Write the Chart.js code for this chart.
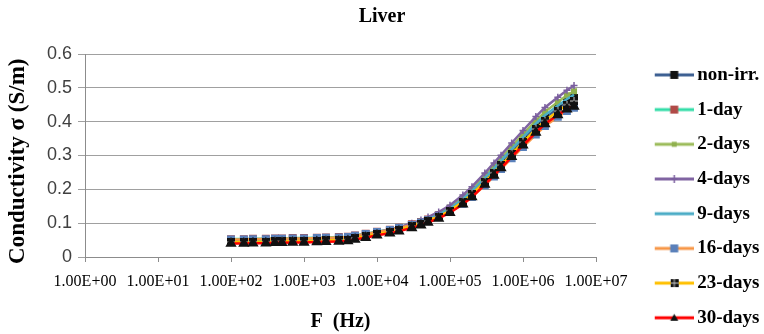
<!DOCTYPE html>
<html>
<head>
<meta charset="utf-8">
<script src="https://cdn.jsdelivr.net/npm/chart.js@4.4.1/dist/chart.umd.min.js"></script>
<style>
  html, body { margin: 0; padding: 0; background: #fff; }
  #wrap { width: 764px; height: 334px; }
</style>
</head>
<body>
<div id="wrap"><canvas id="liverChart" width="764" height="334"></canvas></div>
<script>
/*=============== DATA ===============*/
const freqs = [100, 150, 200, 300, 400, 500, 700,
    1000, 1500, 2000, 3000, 4000, 5000, 7000,
    10000, 15000, 20000, 30000, 40000, 50000, 70000,
    100000, 150000, 200000, 300000, 400000, 500000, 700000,
    1000000, 1500000, 2000000, 3000000, 4000000, 5000000];

const nonIrr = [0.045, 0.045, 0.046, 0.046, 0.047, 0.047, 0.048,
    0.048, 0.049, 0.050, 0.051, 0.052, 0.057, 0.062,
    0.069, 0.076, 0.082, 0.093, 0.101, 0.109, 0.122,
    0.140, 0.167, 0.190, 0.227, 0.255, 0.277, 0.311,
    0.346, 0.386, 0.411, 0.439, 0.458, 0.470];
const day1 = [0.053, 0.053, 0.054, 0.054, 0.055, 0.055, 0.056,
    0.056, 0.057, 0.058, 0.059, 0.060, 0.064, 0.069,
    0.075, 0.081, 0.087, 0.097, 0.104, 0.111, 0.123,
    0.139, 0.161, 0.181, 0.217, 0.243, 0.265, 0.298,
    0.331, 0.369, 0.394, 0.421, 0.438, 0.448];
const days2 = [0.047, 0.047, 0.048, 0.048, 0.049, 0.049, 0.050,
    0.050, 0.051, 0.052, 0.053, 0.054, 0.059, 0.064,
    0.071, 0.078, 0.085, 0.096, 0.104, 0.112, 0.127,
    0.146, 0.175, 0.200, 0.239, 0.268, 0.291, 0.326,
    0.363, 0.403, 0.429, 0.458, 0.478, 0.490];
const days4 = [0.050, 0.050, 0.051, 0.051, 0.052, 0.052, 0.053,
    0.053, 0.054, 0.055, 0.056, 0.057, 0.062, 0.067,
    0.074, 0.081, 0.088, 0.100, 0.109, 0.118, 0.133,
    0.153, 0.183, 0.208, 0.248, 0.278, 0.301, 0.337,
    0.374, 0.415, 0.442, 0.472, 0.493, 0.507];
const days9 = [0.046, 0.046, 0.047, 0.047, 0.048, 0.048, 0.049,
    0.049, 0.050, 0.051, 0.052, 0.053, 0.058, 0.063,
    0.070, 0.077, 0.083, 0.094, 0.103, 0.111, 0.125,
    0.143, 0.171, 0.195, 0.233, 0.261, 0.284, 0.318,
    0.354, 0.394, 0.419, 0.447, 0.467, 0.479];
const days16 = [0.052, 0.052, 0.053, 0.053, 0.054, 0.054, 0.055,
    0.055, 0.056, 0.057, 0.058, 0.059, 0.063, 0.068,
    0.074, 0.080, 0.086, 0.095, 0.102, 0.109, 0.120,
    0.135, 0.157, 0.177, 0.212, 0.238, 0.260, 0.292,
    0.325, 0.362, 0.387, 0.414, 0.431, 0.441];
const days23 = [0.044, 0.044, 0.045, 0.045, 0.046, 0.046, 0.047,
    0.047, 0.048, 0.049, 0.050, 0.051, 0.056, 0.061,
    0.068, 0.074, 0.080, 0.091, 0.099, 0.106, 0.119,
    0.137, 0.163, 0.186, 0.222, 0.249, 0.271, 0.304,
    0.339, 0.378, 0.403, 0.431, 0.450, 0.461];
const days30 = [0.040, 0.040, 0.041, 0.041, 0.042, 0.042, 0.043,
    0.043, 0.044, 0.045, 0.046, 0.047, 0.052, 0.057,
    0.064, 0.070, 0.076, 0.086, 0.094, 0.102, 0.114,
    0.131, 0.156, 0.177, 0.214, 0.241, 0.263, 0.296,
    0.330, 0.368, 0.393, 0.420, 0.437, 0.445];

const seriesNames = ['non-irr.', '1-day', '2-days', '4-days', '9-days', '16-days', '23-days', '30-days'];
const xTickValues = [1, 10, 100, 1000, 10000, 100000, 1000000, 10000000];
const xTickLabels = ['1.00E+00', '1.00E+01', '1.00E+02', '1.00E+03', '1.00E+04', '1.00E+05', '1.00E+06', '1.00E+07'];
const yTickLabels = ['0', '0.1', '0.2', '0.3', '0.4', '0.5', '0.6'];

/*=============== STYLES ===============*/
const seriesValues = [nonIrr, day1, days2, days4, days9, days16, days23, days30];
const lineColors = ['#3B5E91', '#33DDA8', '#9BBB59', '#8064A2', '#4BACC6', '#F79646', '#FFC000', '#FF0000'];
const markerColors = ['#111111', '#B04A47', '#8FB04E', '#7A5E9E', null, '#5A80BA', '#111111', '#111111'];
const markerTypes = ['rect', 'rect', 'smallRect', 'cross', 'none', 'rect', 'gridRect', 'triangle'];

// black square with a light cross (23-days)
function gridSquare(size) {
    const c = document.createElement('canvas');
    c.width = size; c.height = size;
    const g = c.getContext('2d');
    g.fillStyle = '#111';
    g.fillRect(0, 0, size, size);
    g.strokeStyle = '#cfcfcf';
    g.lineWidth = 1;
    g.beginPath();
    g.moveTo(size / 2, 0); g.lineTo(size / 2, size);
    g.moveTo(0, size / 2); g.lineTo(size, size / 2);
    g.stroke();
    return c;
}

function pointOpts(i) {
    const t = markerTypes[i], col = markerColors[i];
    if (t === 'none') return { pointRadius: 0 };
    if (t === 'gridRect') return { pointStyle: gridSquare(8) };
    if (t === 'smallRect') return { pointStyle: 'rect', pointRadius: 2.5, pointBackgroundColor: col, pointBorderColor: col };
    if (t === 'cross') return { pointStyle: 'cross', pointRadius: 3.5, pointBorderColor: col, pointBorderWidth: 1.5 };
    if (t === 'triangle') return { pointStyle: 'triangle', pointRadius: 4, pointBackgroundColor: col, pointBorderColor: col };
    return { pointStyle: 'rect', pointRadius: 3.8, pointBackgroundColor: col, pointBorderColor: col };
}

// legend icon: line with marker, drawn in the right part of a wider canvas
function legendIcon(i) {
    const c = document.createElement('canvas');
    c.width = 88; c.height = 14;
    const g = c.getContext('2d');
    const y = 7, x0 = 49, x1 = 88, xm = (x0 + x1) / 2;
    g.strokeStyle = lineColors[i];
    g.lineWidth = 3;
    g.beginPath(); g.moveTo(x0, y); g.lineTo(x1, y); g.stroke();
    const t = markerTypes[i], col = markerColors[i];
    g.fillStyle = col; g.strokeStyle = col;
    if (t === 'rect') g.fillRect(xm - 4, y - 4, 8, 8);
    else if (t === 'smallRect') g.fillRect(xm - 2.5, y - 2.5, 5, 5);
    else if (t === 'gridRect') g.drawImage(gridSquare(8), xm - 4, y - 4);
    else if (t === 'cross') {
        g.lineWidth = 1.5;
        g.beginPath(); g.moveTo(xm, y - 4); g.lineTo(xm, y + 4); g.moveTo(xm - 3, y); g.lineTo(xm + 3, y); g.stroke();
    } else if (t === 'triangle') {
        g.beginPath(); g.moveTo(xm, y - 4); g.lineTo(xm + 4, y + 3); g.lineTo(xm - 4, y + 3); g.closePath(); g.fill();
    }
    return c;
}

const datasets = seriesNames.map((name, i) => Object.assign({
    label: name,
    data: freqs.map((f, k) => ({ x: f, y: seriesValues[i][k] })),
    borderColor: lineColors[i],
    backgroundColor: lineColors[i],
    borderWidth: 2.5,
    tension: 0,
    order: seriesNames.length - 1 - i
}, pointOpts(i)));

/*=============== CHART ===============*/
const serif = "'Liberation Serif', 'Times New Roman', serif";

new Chart(document.getElementById('liverChart'), {
    type: 'line',
    data: { datasets: datasets },
    options: {
        responsive: false,
        animation: false,
        devicePixelRatio: 1,
        layout: { padding: { left: 0, right: 0, top: 0, bottom: -9 } },
        plugins: {
            title: {
                display: true,
                text: 'Liver',
                color: '#000',
                font: { family: serif, size: 20, weight: 'bold' },
                padding: { top: 5, bottom: 25 }
            },
            legend: {
                position: 'right',
                align: 'end',
                maxWidth: 168,
                labels: {
                    usePointStyle: true,
                    pointStyleWidth: 76,
                    padding: 15.7,
                    color: '#000',
                    font: { family: serif, size: 19, weight: 'bold' },
                    generateLabels: () => seriesNames.map((name, i) => ({
                        text: name,
                        pointStyle: legendIcon(i),
                        fillStyle: lineColors[i],
                        strokeStyle: 'rgba(0,0,0,0)',
                        lineWidth: 0,
                        fontColor: '#000',
                        hidden: false,
                        datasetIndex: i
                    }))
                }
            },
            tooltip: { enabled: false }
        },
        scales: {
            x: {
                type: 'logarithmic',
                min: 1,
                max: 10000000,
                afterFit: s => { s.height = 86; },
                afterBuildTicks: s => { s.ticks = xTickValues.map(v => ({ value: v })); },
                ticks: {
                    autoSkip: false,
                    maxRotation: 0,
                    padding: 10,
                    color: '#000',
                    font: { family: serif, size: 16 },
                    callback: (v, idx) => xTickLabels[idx]
                },
                grid: { drawOnChartArea: false, drawTicks: true, tickLength: 5, color: '#8c8c8c' },
                border: { color: '#8c8c8c' },
                title: {
                    display: true,
                    text: 'F  (Hz)',
                    color: '#000',
                    font: { family: serif, size: 20, weight: 'bold' },
                    padding: { top: 0, bottom: 9 }
                }
            },
            y: {
                min: 0,
                max: 0.6,
                afterFit: s => { s.width = 85; },
                ticks: {
                    stepSize: 0.1,
                    padding: 6,
                    color: '#404040',
                    font: { family: "'Liberation Sans', Arial, sans-serif", size: 18 },
                    callback: (v, idx) => yTickLabels[idx]
                },
                grid: { color: '#a0a0a0', tickLength: 7 },
                border: { color: '#8c8c8c' },
                title: {
                    display: true,
                    text: 'Conductivity σ (S/m)  ',
                    color: '#000',
                    font: { family: serif, size: 23, weight: 'bold' },
                    padding: { top: 4, bottom: 0 }
                }
            }
        }
    }
});
</script>
</body>
</html>
